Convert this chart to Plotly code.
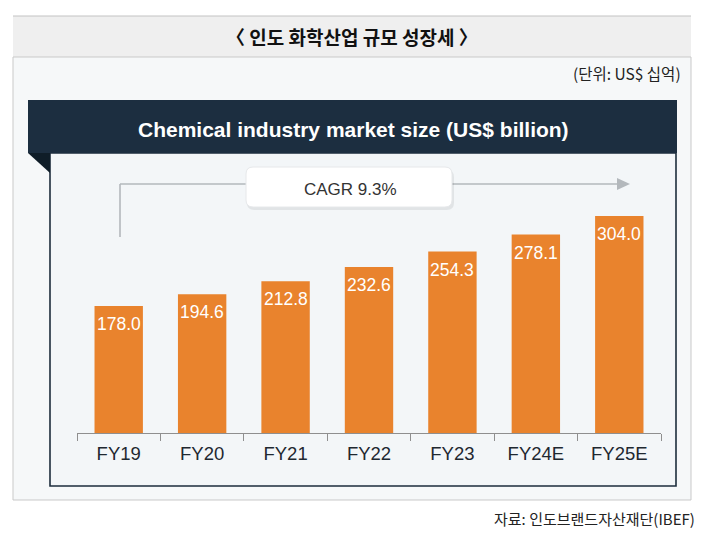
import plotly.graph_objects as go

categories = ["FY19", "FY20", "FY21", "FY22", "FY23", "FY24E", "FY25E"]
market_size = [178.0, 194.6, 212.8, 232.6, 254.3, 278.1, 304.0]
value_labels = ["178.0", "194.6", "212.8", "232.6", "254.3", "278.1", "304.0"]

# page body has an 8px margin; compensate so drawing coords match window pixels
OFF = 8
W, H = 709 - OFF, 543 - OFF
def px(x):
    return (x - OFF) / W
def py(y):
    return 1 - (y - OFF) / H

KR = "Noto Sans CJK KR"
EN = "Liberation Sans, Arial"

fig = go.Figure()
fig.add_trace(go.Bar(
    x=categories, y=market_size,
    marker=dict(color="#e9832d", line=dict(width=0)),
    hoverinfo="x+y", showlegend=False,
))

annotations = []
for c, v, t in zip(categories, market_size, value_labels):
    annotations.append(dict(
        x=c, y=v, xref="x", yref="y", text=t, showarrow=False,
        yanchor="middle", yshift=-18,
        font=dict(family=EN, size=17.5, color="white"),
    ))

shapes = []
shapes.append(dict(type="rect", xref="paper", yref="paper",
                   x0=px(13), x1=px(691), y0=py(57), y1=py(16),
                   fillcolor="#efefef", line=dict(width=0), layer="below"))
shapes.append(dict(type="line", xref="paper", yref="paper",
                   x0=px(13), x1=px(691), y0=py(16), y1=py(16),
                   line=dict(color="#c4c4c4", width=1.2), layer="below"))
shapes.append(dict(type="rect", xref="paper", yref="paper",
                   x0=px(13), x1=px(691), y0=py(500), y1=py(57),
                   fillcolor="#f6f8f9", line=dict(color="#c9c9c9", width=1), layer="below"))
shapes.append(dict(type="rect", xref="paper", yref="paper",
                   x0=px(50), x1=px(676), y0=py(486), y1=py(153),
                   fillcolor="#f3f6f8", line=dict(color="#1d2d3c", width=1.6), layer="below"))
shapes.append(dict(type="rect", xref="paper", yref="paper",
                   x0=px(28), x1=px(677), y0=py(153), y1=py(100),
                   fillcolor="#1c2e40", line=dict(width=0), layer="below"))
shapes.append(dict(type="path", xref="paper", yref="paper",
                   path=f"M {px(28)},{py(153)} L {px(50)},{py(153)} L {px(50)},{py(173)} Z",
                   fillcolor="#0f1d28", line=dict(width=0), layer="below"))

arrow_col = "#b3b8bc"
shapes.append(dict(type="line", xref="paper", yref="paper",
                   x0=px(120), x1=px(120), y0=py(237), y1=py(184),
                   line=dict(color=arrow_col, width=1.6), layer="below"))
shapes.append(dict(type="line", xref="paper", yref="paper",
                   x0=px(120), x1=px(619), y0=py(184), y1=py(184),
                   line=dict(color=arrow_col, width=1.6), layer="below"))
shapes.append(dict(type="path", xref="paper", yref="paper",
                   path=f"M {px(617)},{py(178)} L {px(630)},{py(184)} L {px(617)},{py(190)} Z",
                   fillcolor=arrow_col, line=dict(width=0), layer="below"))

def rounded(x0, y0, x1, y1, r):
    return (f"M {px(x0+r)},{py(y0)} L {px(x1-r)},{py(y0)} Q {px(x1)},{py(y0)} {px(x1)},{py(y0+r)} "
            f"L {px(x1)},{py(y1-r)} Q {px(x1)},{py(y1)} {px(x1-r)},{py(y1)} "
            f"L {px(x0+r)},{py(y1)} Q {px(x0)},{py(y1)} {px(x0)},{py(y1-r)} "
            f"L {px(x0)},{py(y0+r)} Q {px(x0)},{py(y0)} {px(x0+r)},{py(y0)} Z")

shapes.append(dict(type="path", xref="paper", yref="paper",
                   path=rounded(247, 170, 454, 210, 7),
                   fillcolor="rgba(0,0,0,0.07)", line=dict(width=0), layer="below"))
shapes.append(dict(type="path", xref="paper", yref="paper",
                   path=rounded(246, 167, 452, 207, 7),
                   fillcolor="white", line=dict(color="#e6e8ea", width=1), layer="below"))

annotations += [
    dict(x=px(352), y=py(37), xref="paper", yref="paper", text="〈 인도 화학산업 규모 성장세 〉",
         showarrow=False, font=dict(family=KR, size=19, color="#111111", weight=600),
         xanchor="center", yanchor="middle"),
    dict(x=px(683), y=py(73), xref="paper", yref="paper", text="(단위: US$ 십억)",
         showarrow=False, font=dict(family=KR, size=15.5, color="#222222"), xanchor="right", yanchor="middle"),
    dict(x=px(353), y=py(130), xref="paper", yref="paper", text="<b>Chemical industry market size (US$ billion)</b>",
         showarrow=False, font=dict(family=EN, size=21, color="white"), xanchor="center", yanchor="middle"),
    dict(x=px(350), y=py(189), xref="paper", yref="paper", text="CAGR 9.3%",
         showarrow=False, font=dict(family=EN, size=17, color="#333333"), xanchor="center", yanchor="middle"),
    dict(x=px(697), y=py(518), xref="paper", yref="paper", text="자료: 인도브랜드자산재단(IBEF)",
         showarrow=False, font=dict(family=KR, size=15, color="#222222"), xanchor="right", yanchor="middle"),
]

px_per_unit = 127.0 / 178.0
y_top_px = 163
y_max = (433 - y_top_px) / px_per_unit

fig.update_layout(
    width=W, height=H,
    margin=dict(l=0, r=0, t=0, b=0),
    paper_bgcolor="white",
    plot_bgcolor="rgba(0,0,0,0)",
    bargap=0.42,
    shapes=shapes,
    annotations=annotations,
    xaxis=dict(domain=[px(77), px(661)], range=[-0.5, 6.5], type="category",
               showgrid=False, zeroline=False,
               showline=True, linecolor="#8f8f8f", linewidth=1.3,
               ticks="outside", ticklen=7, tickcolor="#8f8f8f", tickwidth=1.3,
               tickson="boundaries", ticklabelstandoff=4,
               tickfont=dict(family=EN, size=18.5, color="#1f2830")),
    yaxis=dict(domain=[py(433), py(y_top_px)], range=[0, y_max],
               visible=False, showgrid=False, zeroline=False),
)

fig.write_html("out.html")
